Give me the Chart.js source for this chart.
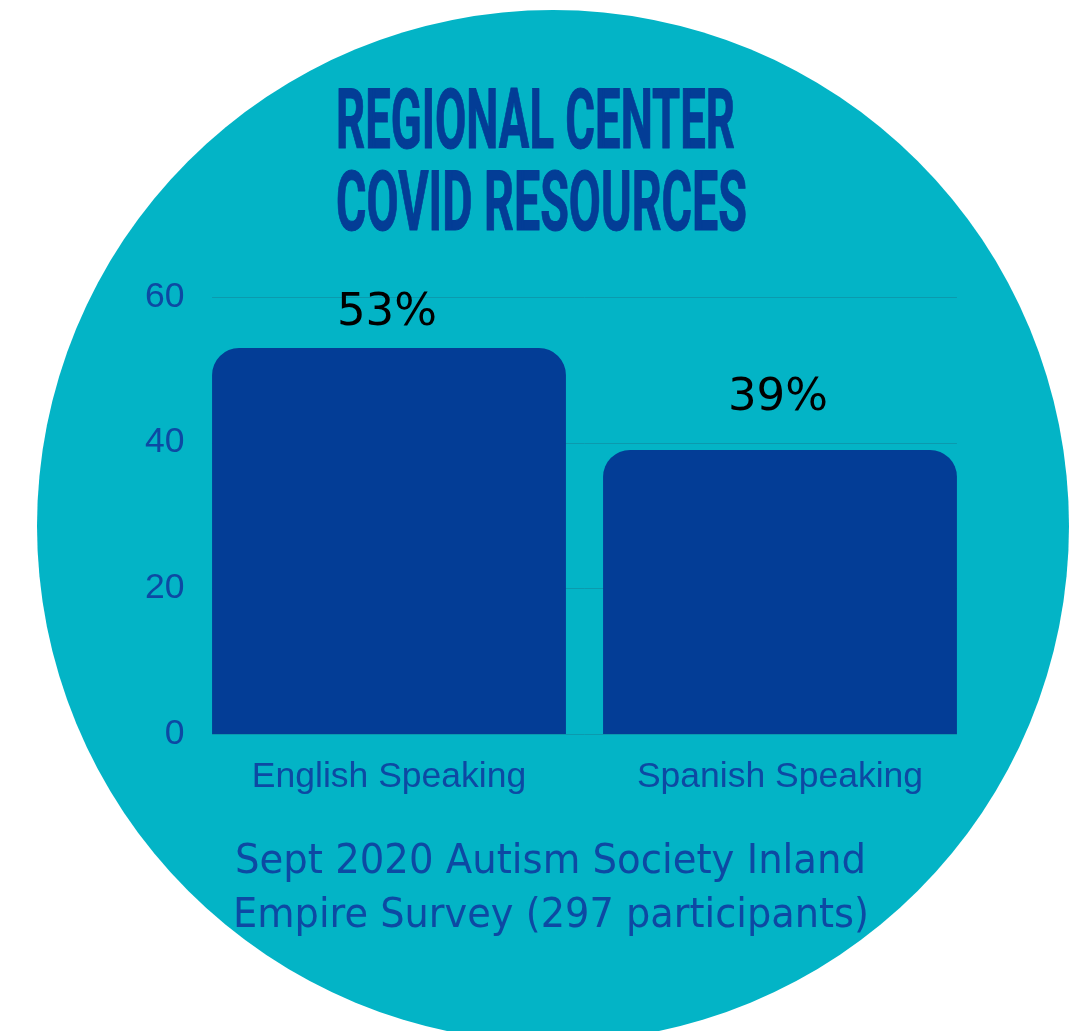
<!DOCTYPE html>
<html>
<head>
<meta charset="utf-8">
<script src="https://cdn.jsdelivr.net/npm/chart.js@4/dist/chart.umd.min.js"></script>
<style>
  html, body { margin: 0; padding: 0; background: #ffffff; }
  canvas { display: block; }
</style>
</head>
<body>
<canvas id="chart" width="1073" height="1031"></canvas>
<script>
const categories = ['English Speaking', 'Spanish Speaking'];
const percentages = [53, 39];
const yTicks = [0, 20, 40, 60];
const titleLines = ['REGIONAL CENTER', 'COVID RESOURCES'];
const footnoteLines = ['Sept 2020 Autism Society Inland', 'Empire Survey (297 participants)'];

const TEAL = '#03b4c6';
const NAVY = '#033d96';
const TEXT_BLUE = '#0d49a3';

// squeeze a line of text into a given width
function drawFitted(ctx, text, x, y, width, font, color, thicken) {
    ctx.save();
    ctx.font = font;
    const w = ctx.measureText(text).width;
    ctx.translate(x, y);
    ctx.scale(width / w, 1);
    ctx.fillStyle = color;
    ctx.textBaseline = 'alphabetic';
    ctx.textAlign = 'left';
    ctx.fillText(text, 0, 0);
    if (thicken) {
        ctx.strokeStyle = color;
        ctx.lineWidth = thicken;
        ctx.lineJoin = 'round';
        ctx.strokeText(text, 0, 0);
    }
    ctx.restore();
}

const backdrop = {
    id: 'backdrop',
    beforeDraw(chart) {
        const ctx = chart.ctx;
        ctx.save();
        ctx.fillStyle = '#ffffff';
        ctx.fillRect(0, 0, chart.width, chart.height);
        ctx.beginPath();
        ctx.arc(553, 526, 516, 0, Math.PI * 2);
        ctx.fillStyle = TEAL;
        ctx.fill();
        ctx.restore();

        drawFitted(ctx, titleLines[0], 336, 148, 399, 'bold 84px Roboto', NAVY, 1);
        drawFitted(ctx, titleLines[1], 336, 230, 411, 'bold 84px Roboto', NAVY, 1);
    },
    afterDraw(chart) {
        const ctx = chart.ctx;
        drawFitted(ctx, footnoteLines[0], 235, 873, 631, '41px "DejaVu Sans"', TEXT_BLUE, 0);
        drawFitted(ctx, footnoteLines[1], 233, 927, 636, '41px "DejaVu Sans"', TEXT_BLUE, 0);
    }
};

// horizontal guides spanning from the first bar's left edge to the last bar's right edge
const guides = {
    id: 'guides',
    beforeDatasetsDraw(chart) {
        const ctx = chart.ctx;
        const bars = chart.getDatasetMeta(0).data;
        const first = bars[0], last = bars[bars.length - 1];
        const x0 = first.x - first.width / 2;
        const x1 = last.x + last.width / 2;
        ctx.save();
        ctx.strokeStyle = '#0b9aae';
        ctx.lineWidth = 1;
        yTicks.forEach(v => {
            const y = Math.round(chart.scales.y.getPixelForValue(v)) + 0.5;
            ctx.beginPath();
            ctx.moveTo(x0, y);
            ctx.lineTo(x1, y);
            ctx.stroke();
        });
        ctx.restore();
    }
};

// percentage labels above each bar
const valueLabels = {
    id: 'valueLabels',
    afterDatasetsDraw(chart) {
        const ctx = chart.ctx;
        const lift = [23, 40];
        const meta = chart.getDatasetMeta(0);
        ctx.save();
        ctx.font = '45px "DejaVu Sans"';
        ctx.fillStyle = '#000000';
        ctx.textAlign = 'center';
        ctx.textBaseline = 'alphabetic';
        meta.data.forEach((bar, i) => {
            ctx.fillText(percentages[i] + '%', bar.x - 2, bar.y - lift[i]);
        });
        ctx.restore();
    }
};

const config = {
    type: 'bar',
    data: {
        labels: categories,
        datasets: [{
            data: percentages,
            backgroundColor: NAVY,
            borderWidth: 0,
            borderRadius: 27,
            barPercentage: 0.905,
            categoryPercentage: 1
        }]
    },
    options: {
        responsive: false,
        animation: false,
        layout: {
            padding: { left: 0, top: 297, right: 97.5, bottom: 217 }
        },
        plugins: {
            legend: { display: false },
            title: { display: false },
            tooltip: { enabled: false }
        },
        scales: {
            x: {
                grid: { display: false },
                border: { display: false },
                ticks: {
                    color: TEXT_BLUE,
                    padding: 14,
                    font: { family: '"Liberation Sans", Arial', size: 35.5 }
                },
                afterFit(axis) { axis.height = 80; }
            },
            y: {
                min: 0,
                max: 60,
                afterBuildTicks(axis) {
                    axis.ticks = yTicks.map(v => ({ value: v }));
                },
                grid: { display: false, drawTicks: false },
                border: { display: false },
                ticks: {
                    color: TEXT_BLUE,
                    padding: 9,
                    font: { family: '"Liberation Sans", Arial', size: 35.5 }
                },
                afterFit(axis) { axis.width = 193.5; }
            }
        }
    },
    plugins: [backdrop, guides, valueLabels]
};

new Chart(document.getElementById('chart'), config);
</script>
</body>
</html>
